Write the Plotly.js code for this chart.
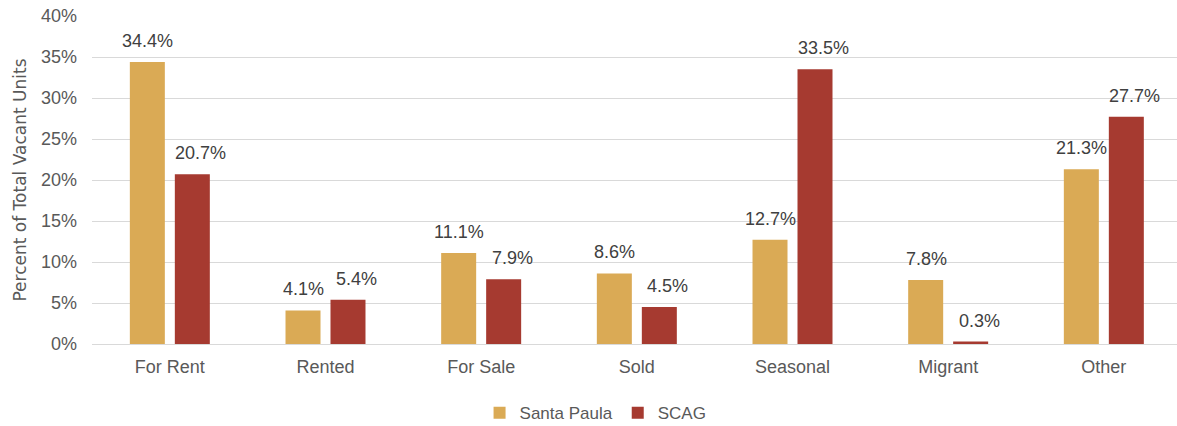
<!DOCTYPE html>
<html>
<head>
<meta charset="utf-8">
<script src="https://cdn.plot.ly/plotly-3.0.1.min.js"></script>
<style>html,body{margin:0;padding:0;background:#fff;}#chart{width:1177px;height:426px;}</style>
</head>
<body>
<div id="chart"></div>
<script>
const categories = ["For Rent", "Rented", "For Sale", "Sold", "Seasonal", "Migrant", "Other"];
const santaPaula = [34.4, 4.1, 11.1, 8.6, 12.7, 7.8, 21.3];
const scag = [20.7, 5.4, 7.9, 4.5, 33.5, 0.3, 27.7];
const yTickVals = [0, 5, 10, 15, 20, 25, 30, 35, 40];
const yTickText = ["0%", "5%", "10%", "15%", "20%", "25%", "30%", "35%", "40%"];

const FONT = "Liberation Sans, Arial, sans-serif";
const labelFont = {family: FONT, size: 18, color: "#404040"};

const traces = [
  {
    type: "bar", name: "Santa Paula", x: categories, y: santaPaula,
    marker: {color: "#DAAA55"}, hoverinfo: "none"
  },
  {
    type: "bar", name: "SCAG", x: categories, y: scag,
    marker: {color: "#A63A30"}, hoverinfo: "none"
  }
];

function labels(values, xshift) {
  return values.map((v, i) => ({
    x: categories[i], y: v, xref: "x", yref: "y",
    text: v.toFixed(1) + "%", showarrow: false,
    xanchor: "center", yanchor: "middle", xshift: xshift, yshift: 21,
    font: labelFont
  }));
}

const layout = {
  width: 1177, height: 426,
  margin: {l: 92, r: 0, t: 16, b: 82},
  paper_bgcolor: "#fff", plot_bgcolor: "#fff",
  font: {family: FONT, size: 18, color: "#595959"},
  barmode: "group", bargap: 0.422, bargroupgap: 0.222,
  showlegend: true,
  legend: {
    orientation: "h", xref: "container", yref: "container",
    x: 0.506, xanchor: "center", y: 0.03, yanchor: "middle",
    font: {family: FONT, size: 17, color: "#595959"},
    itemwidth: 30, traceorder: "normal"
  },
  annotations: labels(santaPaula, -22).concat(labels(scag, 31)),
  xaxis: {
    type: "category", range: [-0.5, 6.47], showgrid: false, showline: false,
    zeroline: false, ticks: "", ticklabelstandoff: 10,
    tickfont: {family: FONT, size: 18, color: "#595959"}, fixedrange: true
  },
  yaxis: {
    range: [0, 40], tickvals: yTickVals, ticktext: yTickText,
    showgrid: true, gridcolor: "#D9D9D9", gridwidth: 1,
    zeroline: true, zerolinecolor: "#D9D9D9", zerolinewidth: 1,
    showline: false, ticks: "", ticklabelstandoff: 14,
    tickfont: {family: FONT, size: 18, color: "#595959"},
    title: {text: "Percent of Total Vacant Units", font: {family: "DejaVu Sans, sans-serif", size: 17, color: "#595959"}, standoff: 10},
    automargin: false, fixedrange: true
  }
};

Plotly.newPlot("chart", traces, layout, {displayModeBar: false, staticPlot: true});
</script>
</body>
</html>
